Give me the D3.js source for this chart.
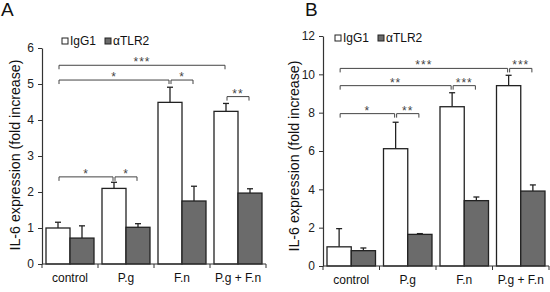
<!DOCTYPE html>
<html>
<head>
<meta charset="utf-8">
<script src="https://cdn.jsdelivr.net/npm/d3@7"></script>
<style>
  body { margin: 0; background: #fff; }
  text { font-family: Arial, "Liberation Sans", sans-serif; }
</style>
</head>
<body>
<div id="chart"></div>
<script>
const groups = ['control', 'P.g', 'F.n', 'P.g + F.n'];
const seriesNames = ['IgG1', 'αTLR2'];

// panel A
const igg1A = [1.0, 2.1, 4.49, 4.24];
const igg1ErrA = [0.16, 0.17, 0.42, 0.22];
const tlr2A = [0.72, 1.02, 1.75, 1.97];
const tlr2ErrA = [0.34, 0.1, 0.41, 0.12];
const ticksA = [0, 1, 2, 3, 4, 5, 6];
// [group, series, group, series, y, label]
const sigA = [
  [0, 0, 3, 0, 5.52, '***'],
  [0, 0, 2, 0, 5.11, '*'],
  [2, 0, 2, 1, 5.11, '*'],
  [3, 0, 3, 1, 4.65, '**'],
  [0, 0, 1, 0, 2.42, '*'],
  [1, 0, 1, 1, 2.42, '*']
];

// panel B
const igg1B = [1.0, 6.12, 8.31, 9.41];
const igg1ErrB = [0.95, 1.38, 0.73, 0.54];
const tlr2B = [0.8, 1.65, 3.41, 3.91];
const tlr2ErrB = [0.14, 0.04, 0.19, 0.32];
const ticksB = [0, 2, 4, 6, 8, 10, 12];
const sigB = [
  [0, 0, 3, 0, 10.31, '***'],
  [3, 0, 3, 1, 10.31, '***'],
  [0, 0, 2, 0, 9.41, '**'],
  [2, 0, 2, 1, 9.41, '***'],
  [0, 0, 1, 0, 7.95, '*'],
  [1, 0, 1, 1, 7.95, '**']
];

const svg = d3.select('#chart').append('svg')
  .attr('width', 550)
  .attr('height', 292);

function drawPanel(opt) {
  const g = svg.append('g');
  const x = d3.scaleBand().domain(groups).range([opt.x0, opt.x1]);
  const y = d3.scaleLinear().domain([0, opt.max]).range([opt.y0, opt.y1]);
  const pad = 4;
  const bw = (x.bandwidth() - 2 * pad) / 2;
  const barX = (gi, si) => x(groups[gi]) + pad + si * bw;
  const barC = (gi, si) => barX(gi, si) + bw / 2;

  const rows = [];
  groups.forEach((grp, i) => {
    rows.push({ g: i, s: 0, v: opt.igg1[i], e: opt.igg1Err[i] });
    rows.push({ g: i, s: 1, v: opt.tlr2[i], e: opt.tlr2Err[i] });
  });

  // error bars (upper only)
  const eb = g.selectAll('.err').data(rows).enter().append('g').attr('class', 'err');
  eb.append('line')
    .attr('x1', d => barC(d.g, d.s)).attr('x2', d => barC(d.g, d.s))
    .attr('y1', d => y(d.v)).attr('y2', d => y(d.v + d.e))
    .attr('stroke', '#222').attr('stroke-width', 1.3);
  eb.append('line')
    .attr('x1', d => barC(d.g, d.s) - 3).attr('x2', d => barC(d.g, d.s) + 3)
    .attr('y1', d => y(d.v + d.e)).attr('y2', d => y(d.v + d.e))
    .attr('stroke', '#222').attr('stroke-width', 1.3);

  g.selectAll('rect.bar').data(rows).enter().append('rect')
    .attr('class', 'bar')
    .attr('x', d => barX(d.g, d.s))
    .attr('y', d => y(d.v))
    .attr('width', bw)
    .attr('height', d => y(0) - y(d.v))
    .attr('fill', d => d.s === 0 ? '#fff' : '#6b6b6b')
    .attr('stroke', '#222')
    .attr('stroke-width', 1.3);

  // axes
  const yAxis = d3.axisLeft(y).tickValues(opt.ticks).tickFormat(d3.format('d'))
    .tickSize(4).tickSizeOuter(0);
  const ya = g.append('g').attr('transform', 'translate(' + opt.x0 + ',0)').call(yAxis);
  ya.select('.domain').attr('stroke', '#333').attr('stroke-width', 1.2);
  ya.selectAll('.tick line').attr('stroke', '#333');
  ya.selectAll('.tick text').attr('font-size', 12).attr('fill', '#222').attr('x', -8)
    .style('font-family', 'Arial, "Liberation Sans", sans-serif');

  const xa = g.append('g').attr('transform', 'translate(0,' + opt.y0 + ')');
  xa.append('line').attr('x1', opt.x0).attr('x2', opt.x1)
    .attr('stroke', '#333').attr('stroke-width', 1.2);
  const bounds = groups.map(d => x(d)).concat([opt.x1]);
  xa.selectAll('.xt').data(bounds).enter().append('line')
    .attr('x1', d => d).attr('x2', d => d).attr('y1', 0).attr('y2', 4)
    .attr('stroke', '#333');
  xa.selectAll('.xl').data(groups).enter().append('text')
    .attr('x', d => x(d) + x.bandwidth() / 2)
    .attr('y', 18)
    .attr('text-anchor', 'middle')
    .attr('font-size', 12)
    .attr('fill', '#111')
    .text(d => d);

  // axis title
  g.append('text')
    .attr('transform', 'translate(' + opt.labelX + ',' + opt.labelY + ') rotate(-90)')
    .attr('text-anchor', 'middle')
    .attr('font-size', 15.5)
    .attr('textLength', 191)
    .attr('lengthAdjust', 'spacingAndGlyphs')
    .attr('fill', '#111')
    .style('font-family', '"Liberation Sans Narrow", "Arial Narrow", Arial, sans-serif')
    .text('IL-6 expression (fold increase)');

  // panel letter
  g.append('text').attr('x', opt.letterX).attr('y', 16)
    .attr('font-size', 19).attr('fill', '#111').text(opt.letter);

  // legend
  const lg = g.append('g').attr('transform', 'translate(' + opt.legX + ',' + opt.legY + ')');
  seriesNames.forEach((name, i) => {
    const lx = i * 43;
    lg.append('rect').attr('x', lx).attr('y', -7).attr('width', 6).attr('height', 6)
      .attr('fill', i === 0 ? '#fff' : '#6b6b6b').attr('stroke', '#222').attr('stroke-width', 1);
    lg.append('text').attr('x', lx + 8).attr('y', 0)
      .attr('font-size', 12).attr('fill', '#111').text(name);
  });

  // significance brackets
  opt.sig.forEach(s => {
    const xa1 = barC(s[0], s[1]) + 1;
    const xa2 = barC(s[2], s[3]) - 1;
    const yy = y(s[4]);
    g.append('path')
      .attr('d', 'M' + xa1 + ',' + (yy + 4) + 'V' + yy + 'H' + xa2 + 'V' + (yy + 4))
      .attr('fill', 'none').attr('stroke', '#444').attr('stroke-width', 1);
    g.append('text')
      .attr('x', (xa1 + xa2) / 2).attr('y', yy + 1)
      .attr('text-anchor', 'middle')
      .attr('font-size', 12).attr('fill', '#444')
      .attr('letter-spacing', 1)
      .text(s[5]);
  });
}

drawPanel({
  x0: 42, x1: 266, y0: 264, y1: 48, max: 6,
  igg1: igg1A, igg1Err: igg1ErrA, tlr2: tlr2A, tlr2Err: tlr2ErrA,
  ticks: ticksA, sig: sigA, labelX: 20, labelY: 155, letter: 'A', letterX: 1,
  legX: 62, legY: 45
});

drawPanel({
  x0: 323, x1: 549, y0: 266, y1: 36, max: 12,
  igg1: igg1B, igg1Err: igg1ErrB, tlr2: tlr2B, tlr2Err: tlr2ErrB,
  ticks: ticksB, sig: sigB, labelX: 299, labelY: 156, letter: 'B', letterX: 305,
  legX: 335, legY: 42
});
</script>
</body>
</html>
